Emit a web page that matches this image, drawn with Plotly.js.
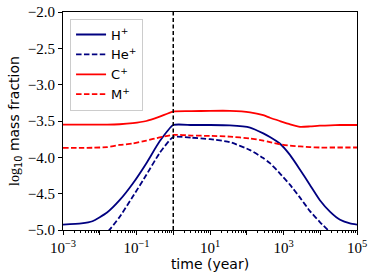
<!DOCTYPE html>
<html>
<head>
<meta charset="utf-8">
<script src="https://cdn.plot.ly/plotly-3.0.1.min.js"></script>
<style>body{margin:0;padding:0;background:#fff;} #chart{width:374px;height:277px;}</style>
</head>
<body>
<div id="chart"></div>
<script>
// time (year)
const timeRise = [0.001, 0.00316, 0.00631, 0.0158, 0.0347, 0.0794, 0.186, 0.427, 1.0];
const timeFall = [1.0, 3.16, 10, 34.7, 123, 282, 427, 794, 1514, 2818, 5248, 9772, 18621, 34674, 64565, 100000];

const hRise  = [-4.925, -4.91, -4.88, -4.76, -4.59, -4.36, -4.08, -3.78, -3.555];
const hFall  = [-3.555, -3.555, -3.555, -3.56, -3.59, -3.67, -3.72, -3.81, -3.97, -4.17, -4.38, -4.59, -4.75, -4.86, -4.91, -4.925];

const heRise = [-5.2, -5.15, -5.1, -5.03, -4.82, -4.54, -4.24, -3.94, -3.72];
const heFall = [-3.72, -3.73, -3.75, -3.79, -3.90, -4.01, -4.08, -4.22, -4.38, -4.555, -4.74, -4.89, -5.03, -5.15, -5.25, -5.3];

const cRise  = [-3.55, -3.55, -3.55, -3.55, -3.545, -3.53, -3.50, -3.44, -3.37];
const cFall  = [-3.37, -3.365, -3.36, -3.36, -3.38, -3.42, -3.455, -3.50, -3.545, -3.58, -3.575, -3.565, -3.56, -3.555, -3.555, -3.555];

const mRise  = [-3.87, -3.87, -3.868, -3.86, -3.83, -3.81, -3.77, -3.725, -3.69];
const mFall  = [-3.69, -3.70, -3.705, -3.715, -3.74, -3.77, -3.79, -3.82, -3.84, -3.85, -3.86, -3.865, -3.865, -3.865, -3.865, -3.865];

const xTickVals = [1e-3, 1e-2, 1e-1, 1e0, 1e1, 1e2, 1e3, 1e4, 1e5];
const xTickText = ["10<sup>\u22123</sup>", "", "10<sup>\u22121</sup>", "", "10<sup>1</sup>", "", "10<sup>3</sup>", "", "10<sup>5</sup>"];
const yTickVals = [-5.0, -4.5, -4.0, -3.5, -3.0, -2.5, -2.0];
const markerTime = 1.0;

function join(a, b) { return a.concat(b.slice(1)); }
const time = join(timeRise, timeFall);

const navy = '#000080', red = '#ff0000';
const dash = '5.5px,2.4px';
const ln = (c, d) => ({color: c, width: 1.8, dash: d || 'solid', shape: 'spline', smoothing: 0.5});
const traces = [
  {x: time, y: join(hRise, hFall), name: 'H<sup>+</sup>', mode: 'lines', line: ln(navy)},
  {x: time, y: join(heRise, heFall), name: 'He<sup>+</sup>', mode: 'lines', line: ln(navy, dash)},
  {x: time, y: join(cRise, cFall), name: 'C<sup>+</sup>', mode: 'lines', line: ln(red)},
  {x: time, y: join(mRise, mFall), name: 'M<sup>+</sup>', mode: 'lines', line: ln(red, dash)}
];

// minor ticks for log axis
const minorVals = [];
for (let e = -3; e < 5; e++) for (let k = 2; k <= 9; k++) minorVals.push(k * Math.pow(10, e));

const serif = 'Liberation Serif, DejaVu Serif, serif';
const layout = {
  width: 374, height: 277,
  margin: {l: 63, r: 17, t: 12, b: 47},
  paper_bgcolor: '#fff', plot_bgcolor: '#fff',
  showlegend: true,
  legend: {x: 0.024, y: 0.97, xanchor: 'left', yanchor: 'top',
    bgcolor: 'rgba(255,255,255,0.8)', bordercolor: '#cccccc', borderwidth: 1,
    font: {family: 'DejaVu Sans', size: 13, color: '#000'}, itemwidth: 30, tracegroupgap: 0},
  xaxis: {
    type: 'log', range: [-3, 5],
    tickmode: 'array', tickvals: xTickVals, ticktext: xTickText,
    ticks: 'outside', ticklen: 4, tickwidth: 1, tickcolor: '#000',
    minor: {tickmode: 'array', tickvals: minorVals, ticks: 'outside', ticklen: 2, tickcolor: '#000', showgrid: false},
    showgrid: false, zeroline: false,
    showline: true, linecolor: '#000', linewidth: 1, mirror: true,
    tickfont: {family: serif, size: 15, color: '#000'},
    title: {text: 'time (year)', font: {family: 'DejaVu Sans', size: 14, color: '#000'}, standoff: 2}
  },
  yaxis: {
    range: [-5, -2],
    tickmode: 'array', tickvals: yTickVals, ticktext: yTickVals.map(v => (v < 0 ? '\u2212' : '') + Math.abs(v).toFixed(1)),
    ticks: 'outside', ticklen: 4, tickwidth: 1, tickcolor: '#000',
    showgrid: false, zeroline: false,
    showline: true, linecolor: '#000', linewidth: 1, mirror: true,
    tickfont: {family: serif, size: 15, color: '#000'},
    title: {text: '<span style="font-family:Liberation Serif">log</span><sub>10</sub> mass fraction', font: {family: 'DejaVu Sans', size: 14, color: '#000'}, standoff: 4}
  },
  shapes: [
    {type: 'line', xref: 'x', yref: 'paper', x0: markerTime, x1: markerTime, y0: 0, y1: 1,
     line: {color: '#000', width: 1.5, dash: '4px,2.5px'}}
  ]
};

Plotly.newPlot('chart', traces, layout, {displayModeBar: false, staticPlot: true});
</script>
</body>
</html>
